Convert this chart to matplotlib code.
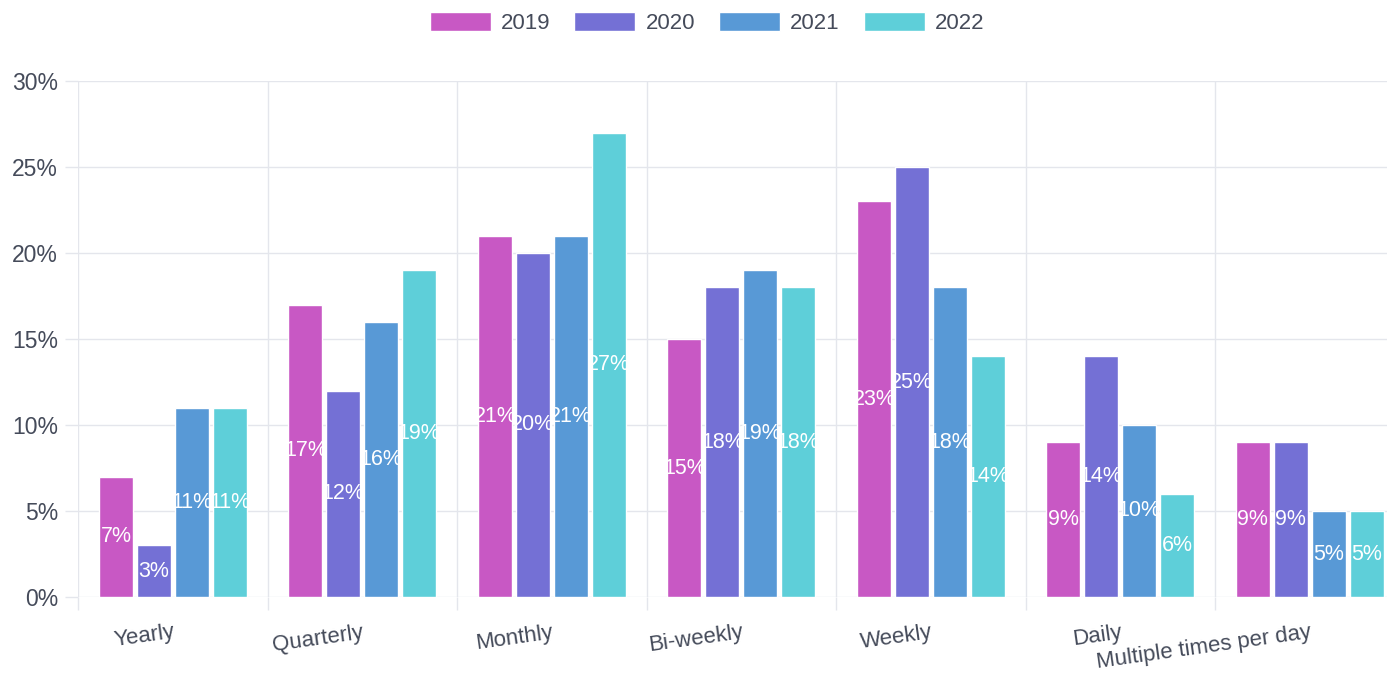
import numpy as np
import matplotlib
matplotlib.use('agg')
import matplotlib.pyplot as plt
from matplotlib.ticker import FuncFormatter

plt.rcParams['font.family'] = ['Liberation Sans', 'DejaVu Sans']

## Datos
categorias = ['Yearly', 'Quarterly', 'Monthly', 'Bi-weekly', 'Weekly', 'Daily',
              'Multiple times per day']
anios = ['2019', '2020', '2021', '2022']
v2019 = [7, 17, 21, 15, 23, 9, 9]
v2020 = [3, 12, 20, 18, 25, 14, 9]
v2021 = [11, 16, 21, 19, 18, 10, 5]
v2022 = [11, 19, 27, 18, 14, 6, 5]
series = [v2019, v2020, v2021, v2022]
colores = ['#c858c4', '#7470d5', '#5899d6', '#5ecfd9']

gris_grid = '#e4e6ec'
gris_txt = '#454b5a'

fig = plt.figure(figsize=(13.87, 6.78), dpi=100)
ax = fig.add_axes([78/1387, 1-597/678, 1-78/1387, (597-81)/678])

x = np.arange(len(categorias))
ancho = 0.18
paso = 0.2
for i, (vals, col, lab) in enumerate(zip(series, colores, anios)):
    pos = x + (i - 1.5) * paso
    ax.bar(pos, vals, width=ancho, color=col, edgecolor='white', linewidth=1,
           label=lab, zorder=3)
    # etiquetas en el centro de la barra
    for px, v in zip(pos, vals):
        ax.text(px, v / 2, '%d%%' % v, ha='center', va='center', color='white',
                fontsize=15.5, zorder=4)

ax.set_yticks([0, 5, 10, 15, 20, 25, 30])
ax.yaxis.set_major_formatter(FuncFormatter(lambda v, p: '%d%%' % v))

ax.set_xticks(np.arange(-0.5, 7, 1))
ax.set_xticklabels([])
ax.set_xticks(x, minor=True)
ax.set_xticklabels(categorias, minor=True, rotation=8, ha='right', va='top',
                   rotation_mode='anchor', fontsize=16, color=gris_txt)
ax.tick_params(axis='x', which='minor', length=0, pad=18)
ax.tick_params(axis='x', which='major', length=9.4, color=gris_grid, width=1)
ax.tick_params(axis='y', length=9.4, color=gris_grid, width=1, pad=5,
               labelsize=16.5, labelcolor=gris_txt)

# limites despues de los ticks (set_xticks los amplia)
ax.set_ylim(0, 30)
ax.set_xlim(-0.5, -0.5 + (1387-78)/189.5)

ax.grid(True, which='major', color=gris_grid, linewidth=1, zorder=0)
for s in ax.spines.values():
    s.set_visible(False)

ax.legend(loc='center', bbox_to_anchor=(707/1387, 1-23/678), bbox_transform=fig.transFigure,
          ncol=4, frameon=False, fontsize=16, labelcolor=gris_txt,
          handlelength=2.75, handleheight=0.9, handletextpad=0.45, columnspacing=1.08)

plt.savefig('out.png', dpi=100)
